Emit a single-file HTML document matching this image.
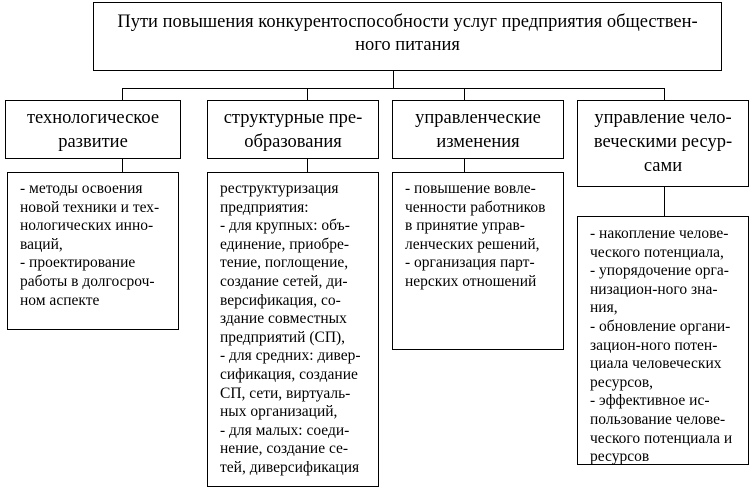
<!DOCTYPE html>
<html><head><meta charset="utf-8"><style>
body{margin:0;width:751px;height:489px;background:#fff;position:relative;overflow:hidden;font-family:"Liberation Serif","DejaVu Serif",serif;color:#000}
.b{position:absolute;border:1.3px solid #000;box-sizing:border-box;background:#fff;white-space:nowrap}
.h{text-align:center;font-size:18.5px;line-height:24px}
.d{font-size:15.5px;line-height:18.6px;padding:7px 6px 0 12px}
.l{position:absolute;background:#000}
</style></head><body>
<div class="b h" style="left:93px;top:2px;width:629px;height:69px;padding-top:8px;font-size:18.5px;line-height:23px">Пути повышения конкурентоспособности услуг предприятия обществен-<br>ного питания</div>
<div class="l" style="left:393px;top:70px;width:1.3px;height:19px"></div>
<div class="l" style="left:122px;top:88px;width:543px;height:1.3px"></div>
<div class="l" style="left:122px;top:88px;width:1.3px;height:13px"></div>
<div class="l" style="left:307px;top:88px;width:1.3px;height:13px"></div>
<div class="l" style="left:464px;top:88px;width:1.3px;height:13px"></div>
<div class="l" style="left:664px;top:88px;width:1.3px;height:13px"></div>

<div class="b h" style="left:5px;top:100px;width:176px;height:59px;padding-top:5px">технологическое<br>развитие</div>
<div class="b h" style="left:207px;top:100px;width:172px;height:59px;padding-top:5px">структурные пре-<br>образования</div>
<div class="b h" style="left:392px;top:100px;width:172px;height:59px;padding-top:5px">управленческие<br>изменения</div>
<div class="b h" style="left:577px;top:100px;width:172px;height:87px;padding-top:5px">управление чело-<br>веческими ресур-<br>сами</div>

<div class="l" style="left:122px;top:158px;width:1.3px;height:15px"></div>
<div class="l" style="left:307px;top:158px;width:1.3px;height:15px"></div>
<div class="l" style="left:464px;top:158px;width:1.3px;height:15px"></div>
<div class="l" style="left:664px;top:186px;width:1.3px;height:31px"></div>

<div class="b d" style="left:7px;top:172px;width:172px;height:158px">- методы освоения<br>новой техники и тех-<br>нологических инно-<br>ваций,<br>- проектирование<br>работы в долгосроч-<br>ном аспекте</div>
<div class="b d" style="left:207px;top:172px;width:172px;height:315px;padding-left:12px">реструктуризация<br>предприятия:<br>- для крупных: объ-<br>единение, приобре-<br>тение, поглощение,<br>создание сетей, ди-<br>версификация, со-<br>здание совместных<br>предприятий (СП),<br>- для средних: дивер-<br>сификация, создание<br>СП, сети, виртуаль-<br>ных организаций,<br>- для малых: соеди-<br>нение, создание се-<br>тей, диверсификация</div>
<div class="b d" style="left:392px;top:172px;width:172px;height:178px;padding-left:12px">- повышение вовле-<br>ченности работников<br>в принятие управ-<br>ленческих решений,<br>- организация парт-<br>нерских отношений</div>
<div class="b d" style="left:577px;top:216px;width:172px;height:249px;padding-left:12px;padding-top:8px">- накопление челове-<br>ческого потенциала,<br>- упорядочение орга-<br>низацион-ного зна-<br>ния,<br>- обновление органи-<br>зацион-ного потен-<br>циала человеческих<br>ресурсов,<br>- эффективное ис-<br>пользование челове-<br>ческого потенциала и<br>ресурсов</div>
</body></html>
